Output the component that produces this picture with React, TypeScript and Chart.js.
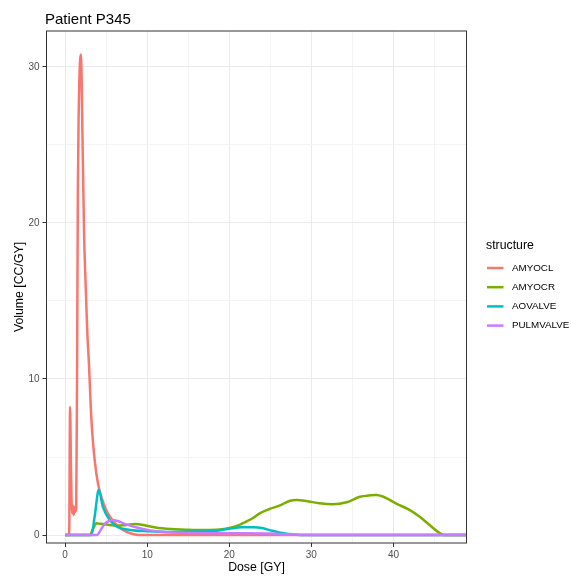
import React, { useEffect, useRef } from 'react';
import { Chart, registerables } from 'chart.js';

Chart.register(...registerables);

const chartTitle = 'Patient P345';
const xTitle = 'Dose [GY]';
const yTitle = 'Volume [CC/GY]';
const legendTitle = 'structure';

const seriesNames = ['AMYOCL', 'AMYOCR', 'AOVALVE', 'PULMVALVE'];
const seriesColors = ['#F8766D', '#7CAE00', '#00BFC4', '#C77CFF'];

const amyoclDose = [0, 0.45, 0.5, 0.6, 0.72, 0.85, 0.95, 1.05, 1.15, 1.25, 1.35, 1.45, 1.55, 1.65, 1.8, 1.9, 2.0, 2.1, 2.3, 2.5, 2.7, 2.9, 3.1, 3.3, 3.6, 4.0, 4.5, 5.0, 5.7, 6.5, 7.5, 8.5, 9.5, 49];
const amyoclVol = [0, 0, 0.3, 8.2, 4.0, 1.4, 1.9, 1.3, 1.8, 1.5, 1.8, 10, 22, 27, 30.2, 30.8, 29.5, 26, 19.5, 16, 13, 11, 8.5, 6.6, 4.8, 3.3, 2.3, 1.6, 1.0, 0.55, 0.2, 0.04, 0, 0];

const amyocrDose = [0, 3.0, 3.4, 3.8, 4.3, 5.0, 6.3, 7.5, 8.5, 9.5, 11, 13, 15, 17, 18.8, 20, 20.9, 22, 22.9, 23.7, 24.9, 26.1, 27.4, 28.2, 29.4, 31, 32.6, 34.3, 35.9, 37.2, 37.9, 38.7, 40.4, 42, 43.2, 44.4, 45.3, 46.2, 49];
const amyocrVol = [0, 0, 0.4, 0.75, 0.72, 0.68, 0.6, 0.65, 0.7, 0.65, 0.48, 0.38, 0.34, 0.32, 0.35, 0.45, 0.58, 0.85, 1.09, 1.39, 1.67, 1.88, 2.2, 2.25, 2.18, 2.03, 1.97, 2.1, 2.45, 2.55, 2.57, 2.47, 2.0, 1.6, 1.17, 0.64, 0.25, 0, 0];

const aovalveDose = [0, 3.2, 3.6, 4.1, 4.6, 5.45, 6.26, 7.9, 10, 13, 16, 18.5, 20, 21.5, 23, 24, 25, 26.2, 27.7, 29, 49];
const aovalveVol = [0, 0, 1.2, 2.9, 1.8, 0.96, 0.55, 0.33, 0.25, 0.2, 0.22, 0.28, 0.4, 0.5, 0.5, 0.45, 0.3, 0.15, 0.05, 0, 0];

const pulmvalveDose = [0, 3.9, 4.3, 4.8, 5.2, 5.7, 6.3, 7.1, 8.5, 10.4, 12, 14, 18, 22, 25, 27, 30, 49];
const pulmvalveVol = [0, 0, 0.3, 0.7, 0.86, 0.96, 0.92, 0.75, 0.52, 0.3, 0.2, 0.14, 0.12, 0.12, 0.1, 0.05, 0, 0];

const seriesDose = [amyoclDose, amyocrDose, aovalveDose, pulmvalveDose];
const seriesVol = [amyoclVol, amyocrVol, aovalveVol, pulmvalveVol];

const xGridValues = [0, 5, 10, 15, 20, 25, 30, 35, 40, 45];
const yGridValues = [0, 5, 10, 15, 20, 25, 30];
const xMajor = [0, 10, 20, 30, 40];
const yMajor = [0, 10, 20, 30];

const FONT = "'Liberation Sans', Arial, Helvetica, sans-serif";

const decorPlugin = {
  id: 'decor',
  afterDatasetsDraw(chart: any) {
    const { ctx, chartArea } = chart;
    ctx.save();
    ctx.strokeStyle = '#333333';
    ctx.lineWidth = 1;
    ctx.strokeRect(chartArea.left, chartArea.top, chartArea.right - chartArea.left, chartArea.bottom - chartArea.top);
    ctx.restore();
  },
  afterDraw(chart: any) {
    const { ctx } = chart;
    ctx.save();
    ctx.fillStyle = '#000000';
    ctx.textAlign = 'left';
    ctx.textBaseline = 'alphabetic';
    ctx.font = `15px ${FONT}`;
    ctx.fillText(chartTitle, 45, 24);

    ctx.font = `12.3px ${FONT}`;
    ctx.textBaseline = 'middle';
    ctx.fillText(legendTitle, 486, 246);

    ctx.font = `9.8px ${FONT}`;
    seriesNames.forEach((name, i) => {
      const y = 268 + i * 19.2;
      ctx.strokeStyle = seriesColors[i];
      ctx.lineWidth = 2.5;
      ctx.beginPath();
      ctx.moveTo(487, y);
      ctx.lineTo(503.5, y);
      ctx.stroke();
      ctx.fillStyle = '#000000';
      ctx.fillText(name, 512, y);
    });
    ctx.restore();
  },
};

export default function App() {
  const canvasRef = useRef<HTMLCanvasElement | null>(null);

  useEffect(() => {
    const canvas = canvasRef.current;
    if (!canvas) return;
    const datasets = seriesNames.map((name, i) => ({
      label: name,
      data: seriesDose[i].map((d, j) => ({ x: d, y: seriesVol[i][j] })),
      borderColor: seriesColors[i],
      backgroundColor: seriesColors[i],
      borderWidth: 2.5,
      pointRadius: 0,
      fill: false,
      cubicInterpolationMode: 'monotone' as const,
      order: seriesNames.length - 1 - i,
      clip: 0,
    }));

    const chart = new Chart(canvas, {
      type: 'line',
      data: { datasets },
      options: {
        animation: false,
        responsive: false,
        maintainAspectRatio: false,
        layout: { padding: { left: 0, top: 31, right: 104.5, bottom: 0 } },
        plugins: {
          legend: { display: false },
          title: { display: false },
          tooltip: { enabled: false },
        },
        scales: {
          x: {
            type: 'linear',
            min: -2.27,
            max: 48.9,
            afterBuildTicks: (s: any) => {
              s.ticks = xGridValues.map((v) => ({ value: v }));
            },
            afterFit: (s: any) => {
              s.height = 33;
            },
            border: { display: false },
            grid: {
              color: (c: any) => (xMajor.includes(c.tick?.value) ? '#EBEBEB' : '#F4F4F4'),
              lineWidth: 1,
              tickLength: 4,
              tickColor: (c: any) => (xMajor.includes(c.tick?.value) ? '#333333' : 'rgba(0,0,0,0)'),
              tickWidth: 1,
            },
            ticks: {
              autoSkip: false,
              maxRotation: 0,
              padding: 2,
              color: '#4D4D4D',
              font: { family: FONT, size: 10 },
              callback: (v: any) => (xMajor.includes(Number(v)) ? String(v) : ''),
            },
            title: {
              display: true,
              text: xTitle,
              color: '#000000',
              font: { family: FONT, size: 12.3 },
              padding: { top: 0, bottom: 1 },
            },
          },
          y: {
            type: 'linear',
            min: -0.51,
            max: 32.3,
            afterBuildTicks: (s: any) => {
              s.ticks = yGridValues.map((v) => ({ value: v }));
            },
            afterFit: (s: any) => {
              s.width = 46.5;
            },
            border: { display: false },
            grid: {
              color: (c: any) => (yMajor.includes(c.tick?.value) ? '#EBEBEB' : '#F4F4F4'),
              lineWidth: 1,
              tickLength: 4,
              tickColor: (c: any) => (yMajor.includes(c.tick?.value) ? '#333333' : 'rgba(0,0,0,0)'),
              tickWidth: 1,
            },
            ticks: {
              autoSkip: false,
              padding: 3,
              color: '#4D4D4D',
              font: { family: FONT, size: 10 },
              callback: (v: any) => (yMajor.includes(Number(v)) ? String(v) : ''),
            },
            title: {
              display: true,
              text: yTitle,
              color: '#000000',
              font: { family: FONT, size: 12.3 },
              padding: { top: 12, bottom: 0 },
            },
          },
        },
      },
      plugins: [decorPlugin],
    });
    return () => chart.destroy();
  }, []);

  return (
    <div style={{ position: 'absolute', left: 0, top: 0, width: 571, height: 576, background: '#ffffff' }}>
      <canvas ref={canvasRef} width={571} height={576} style={{ width: 571, height: 576, display: 'block' }} />
    </div>
  );
}
